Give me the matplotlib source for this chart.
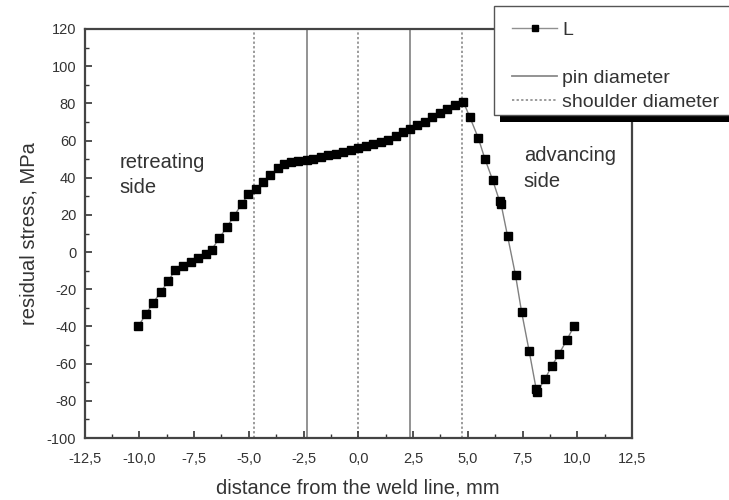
import matplotlib
matplotlib.use("Agg")
import matplotlib.pyplot as plt
from matplotlib.lines import Line2D
from matplotlib.patches import Rectangle
from matplotlib.ticker import MultipleLocator, FuncFormatter

plt.rcParams['font.family'] = ['Liberation Sans', 'DejaVu Sans']

# ---- data ----
distance = [-10.05, -9.70, -9.37, -9.03, -8.68, -8.37, -8.0, -7.66, -7.31, -6.97,
            -6.70, -6.35, -6.01, -5.67, -5.33, -5.03, -4.69, -4.34, -4.01, -3.66,
            -3.40, -3.09, -2.74, -2.36, -2.06, -1.72, -1.37, -1.04, -0.69, -0.35,
            0.0, 0.33, 0.68, 1.02, 1.37, 1.70, 2.02, 2.36, 2.69, 3.04,
            3.37, 3.73, 4.06, 4.41, 4.79, 5.10, 5.48, 5.78, 6.13, 6.45,
            6.52, 6.82, 7.18, 7.46, 7.80, 8.12, 8.18, 8.52, 8.83, 9.17,
            9.51, 9.86]
stress = [-40, -33.3, -27.4, -21.5, -15.8, -9.5, -7.4, -5.5, -3.2, -1.1,
          1.2, 7.5, 13.3, 19.5, 25.8, 31.0, 34.0, 37.6, 41.6, 45.2,
          47.3, 48.2, 48.8, 49.3, 50.0, 50.9, 52.0, 52.8, 53.8, 54.7,
          55.9, 57.0, 58.1, 59.1, 60.4, 62.2, 64.5, 66.3, 68.4, 70.2,
          72.4, 74.7, 77.0, 79.2, 81.0, 72.4, 61.3, 50.2, 38.9, 27.5,
          25.8, 8.4, -12.5, -32.4, -53.1, -73.5, -75.0, -68.3, -61.4, -54.7,
          -47.5, -39.6]
pin_lines = [-2.35, 2.35]
shoulder_lines = [-4.75, 0.0, 4.75]
series_label = "L"
pin_label = "pin diameter"
shoulder_label = "shoulder diameter"

fig = plt.figure(figsize=(7.29, 5.0), dpi=100)
ax = fig.add_axes([0.116, 0.124, 0.751, 0.818])

for xv in pin_lines:
    ax.axvline(xv, color='#8a8a8a', lw=1.3, zorder=1)
for xv in shoulder_lines:
    ax.axvline(xv, color='#808080', lw=1.1, ls=(0, (1.5, 1.5)), zorder=1)

ax.plot(distance, stress, color='#808080', lw=1.0, marker='s', markersize=5.2,
        markerfacecolor='black', markeredgecolor='black', zorder=3)

ax.set_xlim(-12.5, 12.5)
ax.set_ylim(-100, 120)
ax.xaxis.set_major_locator(MultipleLocator(2.5))
ax.xaxis.set_minor_locator(MultipleLocator(1.25))
ax.yaxis.set_major_locator(MultipleLocator(20))
ax.yaxis.set_minor_locator(MultipleLocator(10))
ax.xaxis.set_major_formatter(FuncFormatter(lambda v, p: f"{v:.1f}".replace('.', ',')))
ax.yaxis.set_major_formatter(FuncFormatter(lambda v, p: f"{v:.0f}"))
ax.tick_params(which='both', direction='in', top=False, right=False,
               colors='#333333', labelsize=10.5)
ax.tick_params(axis='x', which='major', pad=10)
ax.tick_params(axis='y', which='major', pad=6)
ax.tick_params(which='major', length=5, width=1.2)
ax.tick_params(which='minor', length=3, width=1.0)
for s in ax.spines.values():
    s.set_linewidth(1.6)
    s.set_color('#444444')

ax.set_xlabel("distance from the weld line, mm", fontsize=14.5, color='#333333', labelpad=9)
ax.set_ylabel("residual stress, MPa", fontsize=14.5, color='#333333', labelpad=6)

ax.text(-10.9, 41.5, "retreating\nside", fontsize=14.5, color='#333333', va='center', ha='left',
        linespacing=1.45)
ax.text(7.55, 45, "advancing\nside", fontsize=14.5, color='#333333', va='center', ha='left',
        linespacing=1.45)

# legend box with solid shadow
fig.patches.append(Rectangle((0.686, 0.756), 0.34, 0.2, transform=fig.transFigure,
                             facecolor='black', edgecolor='none', zorder=5))
fig.patches.append(Rectangle((0.678, 0.770), 0.34, 0.218, transform=fig.transFigure,
                             facecolor='white', edgecolor='#555555', lw=1.0, zorder=6))

handles = [
    Line2D([], [], color='#909090', lw=1.0, marker='s', markersize=5,
           markerfacecolor='black', markeredgecolor='black'),
    Line2D([], [], color='none'),
    Line2D([], [], color='#8a8a8a', lw=1.3),
    Line2D([], [], color='#808080', lw=1.1, ls=(0, (1.5, 1.5))),
]
labels = [series_label, " ", pin_label, shoulder_label]
leg = fig.legend(handles, labels, loc='upper left', bbox_to_anchor=(0.702, 0.958),
                 frameon=False, fontsize=14, handlelength=2.35, handletextpad=0.25,
                 labelspacing=0.33, borderaxespad=0, borderpad=0)
leg.set_zorder(7)
for t in leg.get_texts():
    t.set_color('#333333')

fig.savefig("out.png", dpi=100)
